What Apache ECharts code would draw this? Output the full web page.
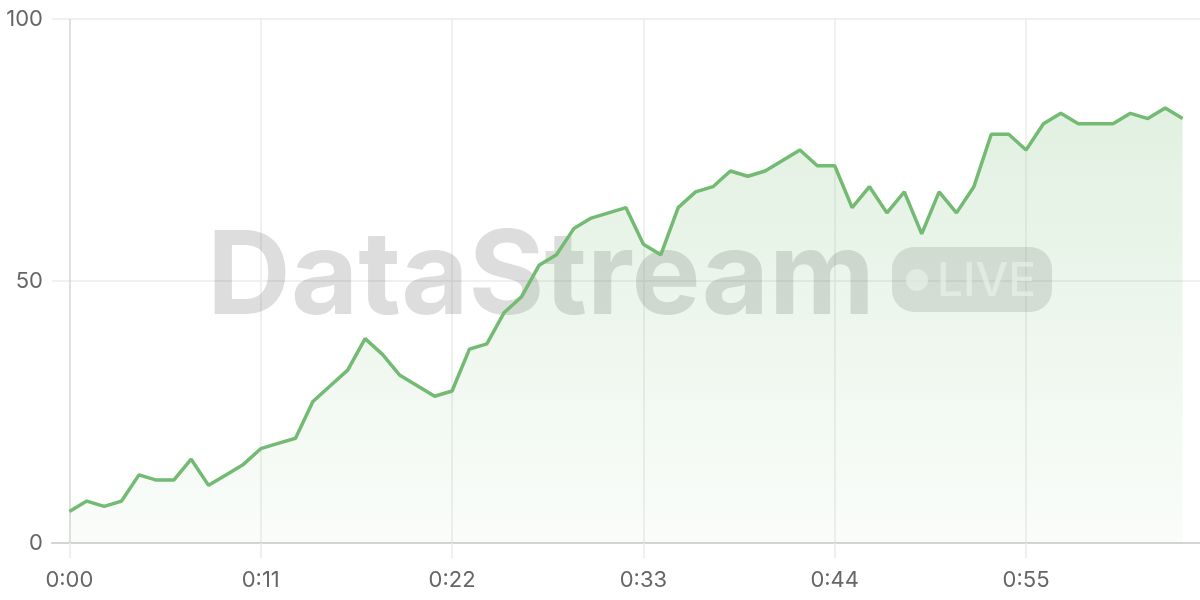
<!DOCTYPE html>
<html>
<head>
<meta charset="utf-8">
<script src="https://cdn.jsdelivr.net/npm/echarts@6/dist/echarts.min.js"></script>
<style>html,body{margin:0;padding:0;background:#fff}#c{width:1200px;height:600px}</style>
</head>
<body>
<div id="c"></div>
<script>
// seconds since start
const seconds = [0,1,2,3,4,5,6,7,8,9,10,11,12,13,14,15,16,17,18,19,20,21,22,23,24,25,26,27,28,29,30,31,32,33,34,35,36,37,38,39,40,41,42,43,44,45,46,47,48,49,50,51,52,53,54,55,56,57,58,59,60,61,62,63,64];
const values = [6,8,7,8,13,12,12,16,11,13,15,18,19,20,27,30,33,39,36,32,30,28,29,37,38,44,47,53,55,60,62,63,64,57,55,64,67,68,71,70,71,73,75,72,72,64,68,63,67,59,67,63,68,78,78,75,80,82,80,80,80,82,81,83,81];
const xTicks = [0,11,22,33,44,55];
const yTicks = [0,50,100];

function fmtTime(v){ const m = Math.floor(v/60), s = v%60; return m + ':' + (s<10?'0':'') + s; }

const chart = echarts.init(document.getElementById('c'));
const FONT = 'Inter, "Noto Sans", sans-serif';
chart.setOption({
  animation:false,
  backgroundColor:'#fff',
  grid:{left:52,right:0,top:19,bottom:57,containLabel:false,outerBoundsMode:'none'},
  xAxis:{
    type:'value', min:-1, max:65,
    axisLine:{show:true,onZero:true,lineStyle:{color:'#d4d4d4',width:2}},
    axisTick:{show:true,customValues:xTicks,length:15,lineStyle:{color:'#eaeaea',width:1.5}},
    axisLabel:{customValues:xTicks,formatter:v=>fmtTime(v),fontSize:22,color:'#666',margin:26,fontFamily:FONT},
    splitLine:{show:true,lineStyle:{color:['#d6d6d6','#ebebeb','#ebebeb','#ebebeb','#ebebeb','#ebebeb'],width:1.5}}
  },
  yAxis:{
    type:'value', min:0, max:100, interval:50,
    axisLine:{show:false},
    axisTick:{show:false},
    axisLabel:{fontSize:22,color:'#666',margin:9,fontFamily:FONT},
    splitLine:{show:true,lineStyle:{color:'#ebebeb',width:1.5}}
  },
  graphic:[
    {type:'text',z:1,x:541,y:279,style:{text:'DataStream',font:'bold 116px Inter',fill:'rgba(110,110,110,0.23)',align:'center',verticalAlign:'middle'}},
    {type:'rect',z:1,shape:{x:892,y:247,width:160,height:65,r:22},style:{fill:'rgba(110,110,110,0.2)'}},
    {type:'circle',z:1,shape:{cx:917,cy:280,r:11},style:{fill:'rgba(255,255,255,0.6)'}},
    {type:'text',z:1,x:937,y:282,style:{text:'LIVE',font:'500 46px Inter',fill:'rgba(255,255,255,0.6)',align:'left',verticalAlign:'middle'}}
  ],
  series:[{
    type:'line',
    data: seconds.map((s,i)=>[s,values[i]]),
    symbol:'none',
    z:2,
    lineStyle:{color:'#73ba73',width:3.5},
    itemStyle:{color:'#73ba73'},
    areaStyle:{color:new echarts.graphic.LinearGradient(0,0,0,1,[
      {offset:0,color:'rgba(115,186,115,0.30)'},
      {offset:1,color:'rgba(115,186,115,0.05)'}
    ])}
  }]
});
</script>
</body>
</html>
